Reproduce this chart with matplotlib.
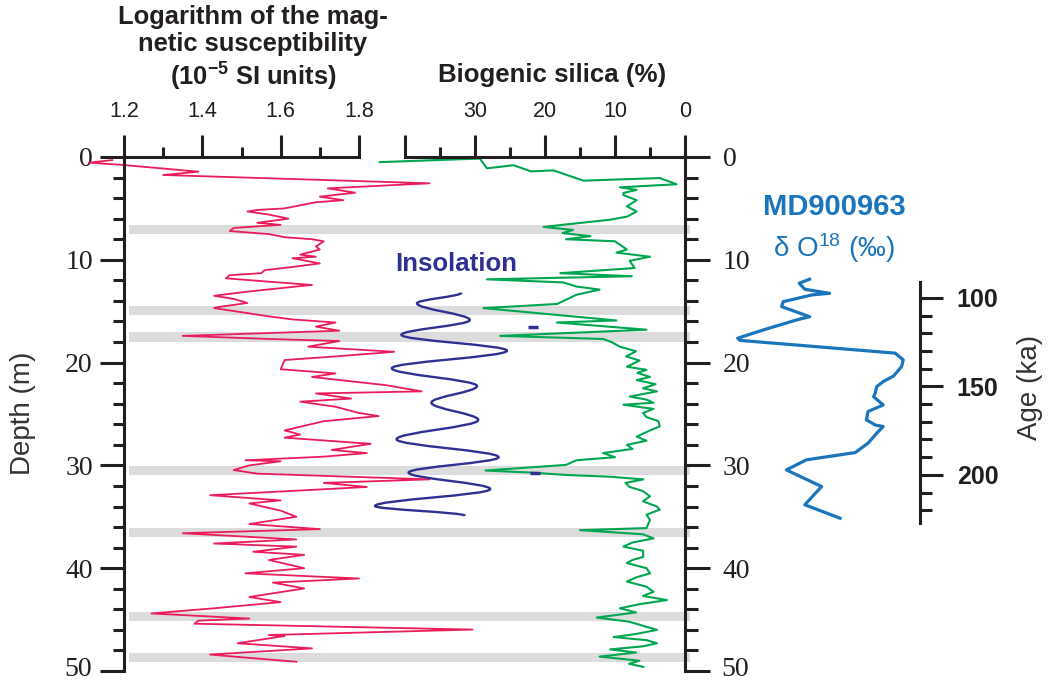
import matplotlib
matplotlib.use("Agg")
import matplotlib.pyplot as plt
from matplotlib.path import Path
from matplotlib.patches import PathPatch
from matplotlib.ticker import FixedLocator, MultipleLocator

plt.rcParams['font.family'] = ['Liberation Sans', 'DejaVu Sans']
plt.rcParams['mathtext.fontset'] = 'custom'
plt.rcParams['mathtext.rm'] = 'Liberation Sans'
plt.rcParams['mathtext.it'] = 'Liberation Sans:italic'
plt.rcParams['mathtext.bf'] = 'Liberation Sans:bold'

# --- magnetic susceptibility (log, 10^-5 SI) vs depth (m)
ms_depth = [0.3, 0.55, 0.78, 1.43, 1.75, 2.56, 3.05, 3.47, 3.86, 4.2,
            4.4, 5.0, 5.15, 5.3, 5.6, 6.0, 6.4, 6.6, 6.9, 7.2,
            7.5, 7.8, 8.0, 8.2, 8.7, 9.0, 9.5, 9.7, 9.85, 10.35,
            10.7, 11.0, 11.3, 11.5, 11.8, 12.1, 12.45, 12.6, 13.1, 13.5,
            13.8, 14.2, 14.6, 14.7, 15.5, 15.8, 16.1, 16.5, 16.9, 17.4,
            17.7, 17.9, 18.45, 18.95, 19.4, 19.75, 20.65, 21.05, 21.4, 22.2,
            22.8, 23.0, 23.5, 23.8, 24.3, 24.9, 25.2, 25.7, 26.6, 27.0,
            27.3, 27.9, 28.5, 28.8, 29.15, 29.5, 29.6, 30.0, 30.45, 30.8,
            31.36, 31.7, 32.1, 32.9, 33.4, 33.7, 34.4, 35.0, 35.7, 36.2,
            36.6, 37.2, 37.6, 37.9, 38.4, 38.7, 39.2, 40.0, 40.5, 41.0,
            41.4, 41.97, 42.8, 43.3, 43.9, 44.4, 44.9, 45.1, 45.4, 45.97,
            46.5, 46.6, 47.3, 47.8, 48.4, 48.6, 49.1]
ms_value = [1.17, 1.11, 1.20, 1.39, 1.30, 1.98, 1.72, 1.79, 1.70, 1.76,
            1.69, 1.61, 1.54, 1.515, 1.57, 1.62, 1.54, 1.60, 1.48, 1.47,
            1.57, 1.61, 1.68, 1.71, 1.69, 1.70, 1.65, 1.69, 1.63, 1.70,
            1.63, 1.56, 1.55, 1.47, 1.46, 1.56, 1.68, 1.64, 1.515, 1.43,
            1.48, 1.515, 1.44, 1.43, 1.57, 1.63, 1.74, 1.69, 1.75, 1.35,
            1.57, 1.75, 1.67, 1.89, 1.74, 1.61, 1.60, 1.74, 1.68, 1.87,
            1.96, 1.69, 1.78, 1.65, 1.74, 1.80, 1.85, 1.71, 1.61, 1.65,
            1.61, 1.83, 1.73, 1.82, 1.71, 1.51, 1.60, 1.52, 1.48, 1.54,
            1.98, 1.71, 1.82, 1.42, 1.60, 1.52, 1.60, 1.64, 1.52, 1.70,
            1.35, 1.64, 1.43, 1.64, 1.53, 1.66, 1.57, 1.66, 1.51, 1.80,
            1.58, 1.66, 1.52, 1.60, 1.43, 1.27, 1.52, 1.39, 1.38, 2.09,
            1.57, 1.61, 1.49, 1.68, 1.42, 1.48, 1.64]

# --- biogenic silica (%) vs depth (m)
si_depth = [0.5, 0.15, 1.1, 0.8, 1.4, 1.3, 2.3, 2.05, 2.65, 2.95,
            3.2, 3.5, 3.7, 4.2, 4.8, 5.3, 5.8, 6.1, 6.8, 7.1,
            7.4, 7.7, 8.0, 8.2, 9.0, 9.3, 9.7, 10.1, 10.8, 11.3,
            11.6, 11.9, 12.2, 12.6, 12.9, 13.4, 14.3, 14.7, 15.9, 16.1,
            16.8, 17.4, 17.7, 18.0, 18.45, 18.9, 19.4, 19.8, 20.4, 20.7,
            21.0, 21.4, 21.7, 22.1, 22.5, 22.8, 23.3, 23.6, 23.9, 24.1,
            24.5, 24.9, 25.3, 25.7, 26.2, 26.6, 27.2, 27.6, 28.0, 28.4,
            28.8, 29.2, 29.5, 29.95, 30.5, 30.7, 30.93, 31.1, 31.36, 31.7,
            32.1, 32.5, 33.0, 33.5, 34.0, 34.3, 34.8, 35.3, 36.1, 36.3,
            36.7, 37.1, 37.5, 37.9, 38.3, 38.9, 39.2, 39.5, 40.0, 40.5,
            40.9, 41.3, 41.8, 42.3, 42.7, 43.1, 43.5, 43.9, 44.3, 44.8,
            45.2, 45.6, 46.0, 46.4, 46.7, 47.0, 47.3, 47.6, 47.9, 48.2,
            48.6, 49.0, 49.3, 49.6]
si_value = [43.6, 29.3, 28.3, 24.5, 22.0, 18.8, 14.5, 3.6, 1.2, 9.3,
            6.9, 8.8, 8.8, 6.9, 8.3, 6.9, 8.3, 10.7, 20.2, 16.0,
            17.5, 13.5, 17.0, 10.0, 8.3, 9.8, 5.0, 7.9, 7.2, 17.8,
            7.6, 28.3, 17.4, 15.5, 12.2, 15.5, 18.3, 28.8, 9.8, 18.3,
            5.5, 26.4, 11.7, 10.5, 9.3, 7.0, 8.4, 6.5, 8.3, 5.5,
            6.8, 5.0, 6.9, 4.2, 6.0, 4.0, 7.9, 5.5, 4.5, 8.8,
            4.5, 6.0, 5.5, 3.8, 3.6, 5.0, 6.9, 5.5, 8.3, 7.5,
            11.7, 10.0, 15.5, 17.0, 28.5, 22.0, 17.0, 10.7, 5.95, 8.5,
            7.9, 6.0, 5.0, 6.0, 4.0, 3.6, 5.5, 5.0, 5.5, 15.0,
            6.0, 4.5, 7.5, 8.8, 6.0, 5.95, 7.5, 8.3, 5.5, 5.0,
            7.0, 8.3, 5.5, 4.5, 6.0, 2.6, 6.5, 9.3, 7.0, 12.6,
            8.0, 6.0, 4.0, 7.0, 10.2, 5.5, 4.0, 6.0, 10.7, 7.0,
            12.2, 6.5, 8.0, 5.95]
dash_depth = [16.5, 30.7]
dash_value = [21.7, 21.4]

# --- insolation turning points (W/m2) vs depth (m)
ins_depth = [13.2, 14.23, 15.86, 17.3, 18.84, 20.55, 22.28, 23.9,
             25.58, 27.46, 29.2, 30.7, 32.3, 33.95, 34.9]
ins_value = [512, 475, 519, 462, 550, 454, 525, 487,
             526, 458, 543, 468, 536, 440, 515]

# --- MD900963 d18O (permil) vs age (ka)
age_ka = [89.4, 91.7, 95.1, 97.4, 98.3, 102.1, 104.9, 110.6, 112.4, 118.1,
          122.8, 124.0, 131.2, 135.0, 138.8, 144.1, 147.3, 150.1, 153.8, 155.8,
          160.5, 164.2, 168.9, 171.8, 172.7, 176.4, 182.1, 187.4, 191.5, 197.2,
          206.6, 216.9, 224.5]
d18o = [-1.73, -1.86, -1.79, -1.48, -1.70, -2.06, -2.08, -1.73, -1.89, -2.31,
        -2.63, -2.60, -0.66, -0.56, -0.58, -0.68, -0.81, -0.89, -0.91, -0.93,
        -0.81, -1.00, -1.02, -0.91, -0.81, -0.89, -1.00, -1.16, -1.77, -2.02,
        -1.58, -1.79, -1.35]

band_depths = [7.05, 14.9, 17.5, 30.5, 36.5, 44.7, 48.7]
depth_ticks = [0, 10, 20, 30, 40, 50]
depth_labels = ['0', '10', '20', '30', '40', '']

RED = '#eb1c5a'
GREEN = '#00a650'
NAVY = '#2e3192'
BLUE = '#1b75bc'
INK = '#231f20'
BAND = '#dcdcdc'

W, H = 1049, 683


def box(x0, y0, x1, y1):
    # pixel rectangle (origin top-left) -> figure fraction
    return [x0 / W, 1 - y1 / H, (x1 - x0) / W, (y1 - y0) / H]


fig = plt.figure(figsize=(W / 100, H / 100), dpi=100)

# gray marker horizons across both panels
ax_bg = fig.add_axes(box(124, 157, 694, 671), zorder=0)
ax_bg.set_xlim(0, 1)
ax_bg.set_ylim(50, 0)
ax_bg.axis('off')
for d in band_depths:
    ax_bg.axhspan(d - 0.45, d + 0.45, xmin=5 / 570, xmax=566 / 570,
                  color=BAND, lw=0)

# magnetic susceptibility panel
ax_ms = fig.add_axes(box(124, 157, 359, 671), zorder=3)
ax_ms.patch.set_visible(False)
ax_ms.plot(ms_value, ms_depth, color=RED, lw=1.3, clip_on=False,
           solid_joinstyle='round')
ax_ms.set_xlim(1.2, 1.8)
ax_ms.set_ylim(50, 0)
for s in ['right', 'bottom']:
    ax_ms.spines[s].set_visible(False)
ax_ms.spines['top'].set_bounds(1.2, 1.8)
ax_ms.spines['left'].set_bounds(0, 50)
for s in ['top', 'left']:
    ax_ms.spines[s].set_linewidth(2.2)
    ax_ms.spines[s].set_color(INK)
ax_ms.xaxis.tick_top()
ax_ms.set_xticks([1.2, 1.4, 1.6, 1.8])
ax_ms.set_xticklabels(['1.2', '1.4', '1.6', '1.8'])
ax_ms.xaxis.set_minor_locator(FixedLocator([1.3, 1.5, 1.7]))
ax_ms.set_yticks(depth_ticks)
ax_ms.set_yticklabels(depth_labels)
ax_ms.yaxis.set_minor_locator(MultipleLocator(2))
ax_ms.tick_params(axis='x', which='major', length=16, width=2.2, pad=9,
                  labelsize=15.5, colors=INK)
ax_ms.tick_params(axis='x', which='minor', length=7.5, width=2.2, colors=INK)
ax_ms.tick_params(axis='y', which='major', length=17.5, width=2.2, pad=5,
                  labelsize=20, colors=INK)
ax_ms.tick_params(axis='y', which='minor', length=8, width=2.2, colors=INK)
for lbl in ax_ms.get_yticklabels():
    lbl.set_family('Liberation Serif')

# biogenic silica panel
ax_si = fig.add_axes(box(405, 157, 685, 671), zorder=2)
ax_si.patch.set_visible(False)
ax_si.plot(si_value, si_depth, color=GREEN, lw=1.5, clip_on=False,
           solid_joinstyle='round')
ax_si.plot(dash_value, dash_depth, ls='none', marker='_', ms=7, mew=2.5,
           color=NAVY, clip_on=False)
ax_si.set_xlim(40, 0)
ax_si.set_ylim(50, 0)
for s in ['left', 'bottom']:
    ax_si.spines[s].set_visible(False)
ax_si.spines['top'].set_bounds(0, 40)
ax_si.spines['right'].set_bounds(0, 50)
for s in ['top', 'right']:
    ax_si.spines[s].set_linewidth(2.2)
    ax_si.spines[s].set_color(INK)
ax_si.xaxis.tick_top()
ax_si.yaxis.tick_right()
ax_si.set_xticks([40, 30, 20, 10, 0])
ax_si.set_xticklabels(['', '30', '20', '10', '0'])
ax_si.xaxis.set_minor_locator(FixedLocator([35, 25, 15, 5]))
ax_si.set_yticks(depth_ticks)
ax_si.set_yticklabels(depth_labels)
ax_si.yaxis.set_minor_locator(MultipleLocator(2))
ax_si.tick_params(axis='x', which='major', length=16, width=2.2, pad=9,
                  labelsize=15.5, colors=INK)
ax_si.tick_params(axis='x', which='minor', length=7.5, width=2.2, colors=INK)
ax_si.tick_params(axis='y', which='major', length=18, width=2.2, pad=9,
                  labelsize=20, colors=INK)
ax_si.tick_params(axis='y', which='minor', length=9.5, width=2.2, colors=INK)
for lbl in ax_si.get_yticklabels():
    lbl.set_family('Liberation Serif')

# bottom depth labels sit on the figure edge, so place them by hand
fig.text(92 / W, 1 - 682 / H, '50', ha='right', va='bottom',
         family='Liberation Serif', fontsize=20, color=INK)
fig.text(721 / W, 1 - 682 / H, '50', ha='left', va='bottom',
         family='Liberation Serif', fontsize=20, color=INK)

# insolation curve, smooth swings between turning points
ax_ins = fig.add_axes(box(375, 157, 507, 671), zorder=4)
ax_ins.set_xlim(440, 550)
ax_ins.set_ylim(50, 0)
ax_ins.axis('off')
k = 0.36
verts = [(ins_value[0], ins_depth[0])]
codes = [Path.MOVETO]
for i in range(1, len(ins_depth)):
    xa, ya = ins_value[i - 1], ins_depth[i - 1]
    xb, yb = ins_value[i], ins_depth[i]
    dy = yb - ya
    verts += [(xa, ya + k * dy), (xb, yb - k * dy), (xb, yb)]
    codes += [Path.CURVE4] * 3
ax_ins.add_patch(PathPatch(Path(verts, codes), facecolor='none',
                           edgecolor=NAVY, lw=1.7, clip_on=False))

# MD900963 oxygen isotope record on its own age scale
ax_age = fig.add_axes(box(730, 282, 920, 523), zorder=2)
ax_age.patch.set_visible(False)
ax_age.plot(d18o, age_ka, color=BLUE, lw=2.3, clip_on=False,
            solid_joinstyle='round')
ax_age.set_xlim(-2.725, -0.35)
ax_age.set_ylim(227.2, 91)
for s in ['left', 'top', 'bottom']:
    ax_age.spines[s].set_visible(False)
ax_age.spines['right'].set_linewidth(2.2)
ax_age.spines['right'].set_color(INK)
ax_age.set_xticks([])
ax_age.yaxis.tick_right()
ax_age.set_yticks([100, 150, 200])
ax_age.yaxis.set_minor_locator(FixedLocator([110, 120, 130, 140, 160, 170,
                                             180, 190, 210, 220]))
ax_age.tick_params(axis='y', which='major', length=16.5, width=2.2, pad=10,
                   labelsize=18, colors=INK)
ax_age.tick_params(axis='y', which='minor', length=8.5, width=2.2, colors=INK)
for lbl in ax_age.get_yticklabels():
    lbl.set_fontweight('bold')

# titles and labels
fig.text(253 / W, 1 - 49 / H,
         'Logarithm of the mag-\nnetic susceptibility\n(10$^{\\mathbf{-5}}$ SI units)',
         ha='center', va='center', fontsize=18.4, fontweight='bold',
         linespacing=1.2, color=INK)
fig.text(552 / W, 1 - 75 / H, 'Biogenic silica (%)', ha='center',
         va='center', fontsize=18.6, fontweight='bold', color=INK)
fig.text(456 / W, 1 - 264 / H, 'Insolation', ha='center', va='center',
         fontsize=18.6, fontweight='bold', color=NAVY)
fig.text(834 / W, 1 - 207 / H, 'MD900963', ha='center', va='center',
         fontsize=21, fontweight='bold', color=BLUE)
fig.text(834 / W, 1 - 248 / H, 'δ O$^{18}$ (‰)', ha='center', va='center',
         fontsize=20, color=BLUE)
fig.text(23 / W, 1 - 413 / H, 'Depth (m)', ha='center', va='center',
         rotation=90, fontsize=20, color='#333333')
fig.text(1030 / W, 1 - 387 / H, 'Age (ka)', ha='center', va='center',
         rotation=90, fontsize=20, color='#333333')

fig.savefig('out.png', dpi=100, facecolor='white')
